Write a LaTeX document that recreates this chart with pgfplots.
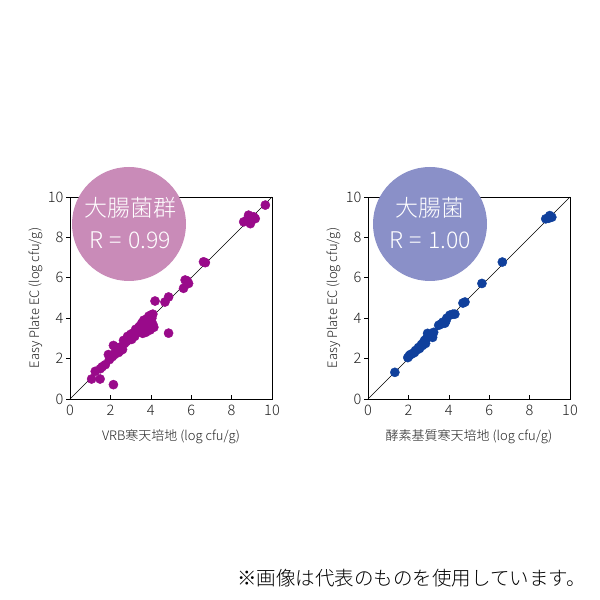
\documentclass[border=0pt]{standalone}
\usepackage{pgfplots}
\pgfplotsset{compat=1.18}
\usepackage{fontspec}
\setmainfont{Noto Sans CJK JP}[UprightFont=* Light]
\definecolor{mag}{HTML}{990A8A}
\definecolor{blu}{HTML}{10409C}
\definecolor{pinkc}{HTML}{C98BB8}
\definecolor{bluec}{HTML}{8A90C8}
\definecolor{txt}{HTML}{222222}
\pgfplotsset{
  myax/.style={anchor=south west, width=202pt, height=202pt, scale only axis,
    xmin=0,xmax=10,ymin=0,ymax=10, xtick={0,2,...,10}, ytick={0,2,...,10},
    tick pos=left, tick align=inside, major tick length=4pt,
    y tick style={xshift=-4pt},
    axis line style={black, line width=0.7pt}, tick style={black, line width=0.6pt},
    /pgf/number format/assume math mode=true,
    ticklabel style={font=\fontsize{14.5}{14.5}\selectfont, text=txt},
    xticklabel style={yshift=-3pt},
    yticklabel style={xshift=-3pt},
    label style={font=\fontsize{13}{13}\selectfont, text=txt},
    ylabel={Easy Plate EC (log cfu/g)},
    ylabel style={yshift=-2pt},
    xlabel style={yshift=-7pt},
    clip=false}
}
\begin{document}
\begin{tikzpicture}[x=1pt,y=1pt]
\path[fill=white] (0,0) rectangle (600,600);
\begin{axis}[myax, at={(70pt,201pt)}, xlabel={VRB寒天培地 (log cfu/g)}]
\addplot[black, line width=0.6pt] coordinates {(0,0) (10,10)};
\addplot[only marks, mark=*, mark size=4.6pt, mark options={fill=mag, draw=mag}] coordinates {
(9.67,9.60) (8.84,9.10) (9.09,9.02) (8.60,8.77) (8.93,8.68) (9.17,8.93) (8.76,8.85) (9.0,8.95)
(6.61,6.79) (6.70,6.75)
(5.70,5.89) (5.87,5.72) (5.62,5.48) (5.80,5.85)
(4.21,4.85) (4.70,4.80) (4.88,5.05) (4.88,3.26) (3.97,3.42)
(3.9,4.1) (4.0,4.15) (4.1,4.2) (4.05,4.0) (3.8,3.95) (3.95,3.85) (4.1,3.7) (4.15,3.55)
(3.85,3.55) (3.7,3.7) (3.6,3.5) (3.5,3.4) (3.4,3.55) (3.3,3.3) (3.6,3.25) (3.75,3.3)
(3.2,3.1) (3.1,3.25) (3.0,3.2) (2.95,3.0) (2.85,3.1) (2.8,2.85) (2.7,2.75) (2.65,2.9)
(2.55,2.6) (2.5,2.4) (2.4,2.5) (2.3,2.55) (2.25,2.35) (2.15,2.65) (2.2,2.2) (2.1,2.1)
(2.0,2.05) (1.9,2.2) (1.95,1.95) (1.75,1.7) (1.5,1.5) (1.25,1.37) (1.07,0.99) (1.49,0.99)
(2.15,0.71) (3.45,3.6) (3.55,3.75) (3.25,3.45) (3.65,3.9) (3.9,3.45) (4.0,3.8) (2.6,2.45)
(3.05,2.95) (2.4,2.3) (1.6,1.6)
};
\end{axis}
\begin{axis}[myax, at={(368pt,201pt)}, xlabel={酵素基質寒天培地 (log cfu/g)}]
\addplot[black, line width=0.6pt] coordinates {(0,0) (10,10)};
\addplot[only marks, mark=*, mark size=4.6pt, mark options={fill=blu, draw=blu}] coordinates {
(1.33,1.32) (1.97,2.05) (2.05,2.15) (2.1,2.2) (2.2,2.25) (2.3,2.3) (2.35,2.4) (2.45,2.45)
(2.5,2.55) (2.55,2.5) (2.6,2.6) (2.65,2.7) (2.7,2.65) (2.75,2.8) (2.8,2.9) (2.85,2.75)
(2.9,3.0) (2.95,3.25) (3.0,3.1) (3.1,3.2) (3.2,3.05) (3.25,3.3) (3.5,3.65) (3.6,3.7)
(3.7,3.8) (3.8,3.75) (3.85,3.85) (3.9,4.0) (4.05,4.15) (4.2,4.2) (4.3,4.2) (4.7,4.75)
(4.8,4.8) (5.64,5.72) (6.65,6.78) (8.8,8.92) (8.95,8.95) (9.0,9.08) (9.1,9.0)
};
\end{axis}
\fill[pinkc] (129,376) circle (57);
\node[text=white, font=\fontsize{23}{23}\selectfont] at (130,392) {大腸菌群};
\node[text=white, font=\fontsize{23}{23}\selectfont] at (130,360) {R\hspace{0.28em}=\hspace{0.28em}0.99};
\fill[bluec] (430,376) circle (57);
\node[text=white, font=\fontsize{23}{23}\selectfont] at (430,392) {大腸菌};
\node[text=white, font=\fontsize{23}{23}\selectfont] at (430,360) {R\hspace{0.28em}=\hspace{0.28em}1.00};
\node[text=black, font=\fontsize{19.5}{19.5}\selectfont, anchor=east, inner sep=0pt] at (586,22) {※画像は代表のものを使用しています。};
\end{tikzpicture}
\end{document}
